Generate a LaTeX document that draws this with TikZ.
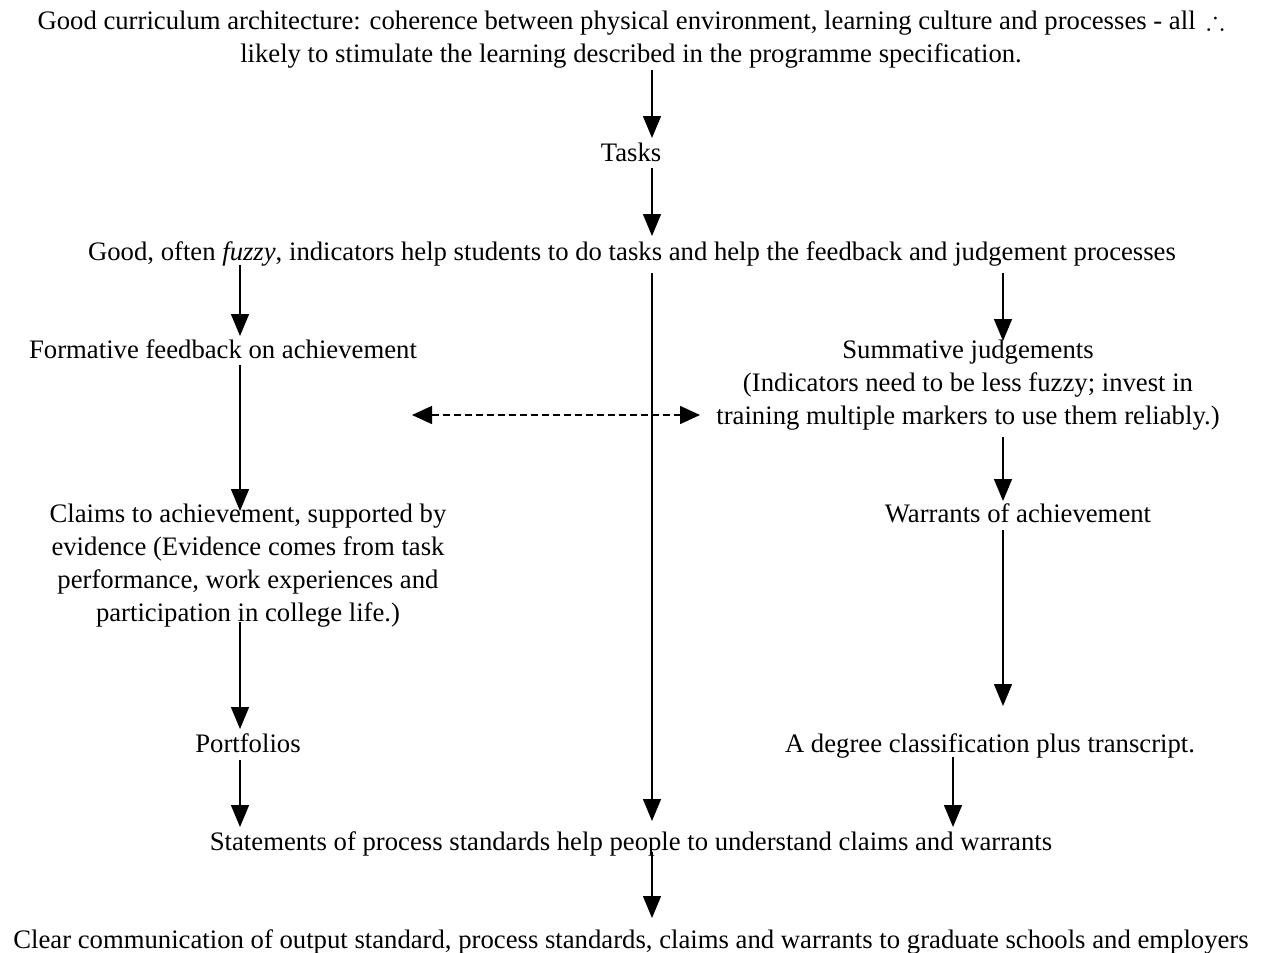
\documentclass[tikz,border=0pt]{standalone}
\usepackage{amssymb}
\usepackage{fontspec}
\setmainfont{Liberation Serif}
\usetikzlibrary{arrows.meta}
\begin{document}
\begin{tikzpicture}[x=1pt,y=-1pt,
  txt/.style={font=\fontsize{26.7}{33}\selectfont, inner sep=0pt, anchor=base, align=center},
  arr/.style={line width=1.5pt, -{Triangle[length=22pt,width=18pt]}},
  darr/.style={line width=1.5pt, dash pattern=on 7pt off 4pt, {Triangle[length=20pt,width=18pt]}-{Triangle[length=20pt,width=18pt]}}]
\useasboundingbox (0,0) rectangle (1261,953);
% multi-line nodes are placed by the baseline of their last line
\node[txt] (top) at (631,62) {Good curriculum architecture: coherence between physical environment, learning culture and processes - all \,$\therefore$\\likely to stimulate the learning described in the programme specification.};
\node[txt] (tasks) at (631,161) {Tasks};
\node[txt] (ind) at (632,260) {Good, often \textit{fuzzy}, indicators help students to do tasks and help the feedback and judgement processes};
\node[txt] (form) at (223,358) {Formative feedback on achievement};
\node[txt] (summ) at (968,424) {Summative judgements\\(Indicators need to be less fuzzy; invest in\\training multiple markers to use them reliably.)};
\node[txt] (claims) at (248,621) {Claims to achievement, supported by\\evidence (Evidence comes from task\\performance, work experiences and\\participation in college life.)};
\node[txt] (warr) at (1018,522) {Warrants of achievement};
\node[txt] (port) at (248,752) {Portfolios};
\node[txt] (deg) at (990,752) {A degree classification plus transcript.};
\node[txt] (stat) at (631,850) {Statements of process standards help people to understand claims and warrants};
\node[txt] (clear) at (631,948) {Clear communication of output standard, process standards, claims and warrants to graduate schools and employers};
% connector end points
\coordinate (a1s) at (652,70);  \coordinate (a1e) at (652,138);
\coordinate (a2s) at (652,168); \coordinate (a2e) at (652,236);
\coordinate (a3s) at (240,265); \coordinate (a3e) at (240,336);
\coordinate (a4s) at (1003,273); \coordinate (a4e) at (1003,341);
\coordinate (a5s) at (652,273); \coordinate (a5e) at (652,821);
\coordinate (a6s) at (240,365); \coordinate (a6e) at (240,511);
\coordinate (a7s) at (1003,437); \coordinate (a7e) at (1003,501);
\coordinate (a8s) at (1003,530); \coordinate (a8e) at (1003,706);
\coordinate (a9s) at (240,622); \coordinate (a9e) at (240,729);
\coordinate (a10s) at (240,760); \coordinate (a10e) at (240,827);
\coordinate (a11s) at (953,757); \coordinate (a11e) at (953,827);
\coordinate (a12s) at (652,852); \coordinate (a12e) at (652,918);
\coordinate (dl) at (412,415); \coordinate (dr) at (700,415);
\draw[arr] (a1s) -- (a1e);
\draw[arr] (a2s) -- (a2e);
\draw[arr] (a3s) -- (a3e);
\draw[arr] (a4s) -- (a4e);
\draw[arr] (a5s) -- (a5e);
\draw[arr] (a6s) -- (a6e);
\draw[arr] (a7s) -- (a7e);
\draw[arr] (a8s) -- (a8e);
\draw[arr] (a9s) -- (a9e);
\draw[arr] (a10s) -- (a10e);
\draw[arr] (a11s) -- (a11e);
\draw[arr] (a12s) -- (a12e);
\draw[darr] (dl) -- (dr);
\end{tikzpicture}
\end{document}
